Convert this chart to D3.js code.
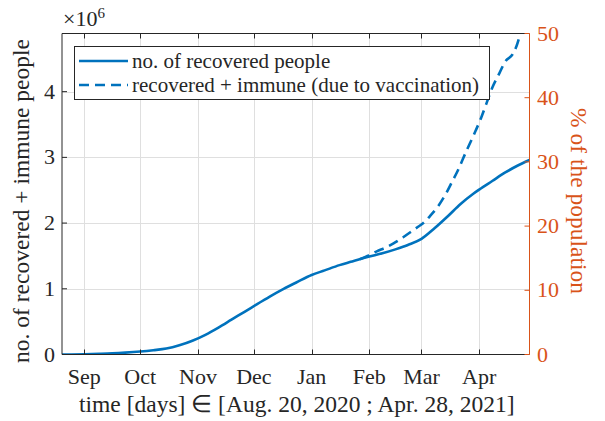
<!DOCTYPE html>
<html>
<head>
<meta charset="utf-8">
<script src="https://cdn.jsdelivr.net/npm/d3@7"></script>
</head>
<body style="margin:0">
<svg id="s" width="605" height="421"></svg>
<script>
// Recovered people (millions) over time
const recoveredDates = [
  "2020-08-20","2020-08-25","2020-09-01","2020-09-09","2020-09-16","2020-09-23",
  "2020-10-01","2020-10-08","2020-10-15","2020-10-22","2020-10-29","2020-11-05",
  "2020-11-12","2020-11-19","2020-11-26","2020-12-03","2020-12-10","2020-12-17",
  "2020-12-24","2021-01-01","2021-01-08","2021-01-16","2021-01-22","2021-01-28",
  "2021-02-01","2021-02-08","2021-02-15","2021-02-22","2021-03-01","2021-03-08",
  "2021-03-15","2021-03-22","2021-03-29","2021-04-01","2021-04-08","2021-04-15",
  "2021-04-22","2021-04-28"
];
const recoveredValues = [
  0.000, 0.001, 0.004, 0.010, 0.017, 0.028,
  0.045, 0.065, 0.090, 0.140, 0.210, 0.300,
  0.410, 0.530, 0.650, 0.770, 0.890, 1.000,
  1.100, 1.210, 1.280, 1.360, 1.410, 1.460,
  1.490, 1.540, 1.600, 1.670, 1.760, 1.920,
  2.100, 2.290, 2.450, 2.510, 2.640, 2.770,
  2.880, 2.960
];

// Recovered + immune through vaccination (millions)
const immuneDates = [
  "2021-01-27","2021-01-31","2021-02-05","2021-02-10","2021-02-14","2021-02-19",
  "2021-02-23","2021-02-27","2021-03-02","2021-03-06","2021-03-10","2021-03-14",
  "2021-03-18","2021-03-20","2021-03-25","2021-03-30","2021-04-02","2021-04-05",
  "2021-04-08","2021-04-12","2021-04-15","2021-04-19","2021-04-21","2021-04-23",
  "2021-04-28"
];
const immuneValues = [
  1.450, 1.500, 1.570, 1.630, 1.690, 1.780,
  1.860, 1.940, 2.000, 2.120, 2.260, 2.440,
  2.660, 2.770, 3.090, 3.400, 3.600, 3.830,
  4.060, 4.290, 4.460, 4.570, 4.690, 4.870,
  5.250
];

const leftTicks = [0, 1, 2, 3, 4];
const rightTicks = [0, 10, 20, 30, 40, 50];
const legendLabels = ["no. of recovered people", "recovered + immune (due to vaccination)"];
const population = 9.77; // millions; right axis = share of population

const parse = d3.timeParse("%Y-%m-%d");
const recovered = recoveredDates.map((d, i) => ({ date: parse(d), v: recoveredValues[i] }));
const immune = immuneDates.map((d, i) => ({ date: parse(d), v: immuneValues[i] }));

const FONT = "Liberation Serif";
const BLUE = "#0072BD", ORANGE = "#D95319", AX = "#262626", GRID = "#dfdfdf";
const L = 62, R = 529.5, T = 33.5, B = 354.5;

const svg = d3.select("#s");

const x = d3.scaleTime()
  .domain([parse("2020-08-20"), parse("2021-04-28")])
  .range([L, R]);
const yL = d3.scaleLinear().domain([0, population / 2]).range([B, T]);
const yR = d3.scaleLinear().domain([0, 50]).range([B, T]);

const months = x.ticks(d3.timeMonth.every(1)).filter(d => d > x.domain()[0]);

// serif face for every text node
function face(sel, size) {
  sel.attr("font-family", FONT).attr("font-size", size)
    .style("font-family", "'" + FONT + "', serif", "important");
}

// grid
const grid = svg.append("g");
grid.selectAll("line.v").data(months).join("line")
  .attr("x1", d => Math.round(x(d)) + 0.5).attr("x2", d => Math.round(x(d)) + 0.5)
  .attr("y1", T).attr("y2", B)
  .attr("stroke", GRID).attr("stroke-width", 1);
grid.selectAll("line.h").data(leftTicks.slice(1)).join("line")
  .attr("y1", d => Math.round(yL(d)) + 0.5).attr("y2", d => Math.round(yL(d)) + 0.5)
  .attr("x1", L).attr("x2", R)
  .attr("stroke", GRID).attr("stroke-width", 1);

// series
svg.append("clipPath").attr("id", "plotclip")
  .append("rect").attr("x", L).attr("y", T).attr("width", R - L).attr("height", B - T);

const line = d3.line()
  .x(d => x(d.date)).y(d => yL(d.v))
  .curve(d3.curveMonotoneX);

const series = svg.append("g").attr("clip-path", "url(#plotclip)");
series.append("path").datum(immune)
  .attr("d", line).attr("fill", "none")
  .attr("stroke", BLUE).attr("stroke-width", 2.6)
  .attr("stroke-dasharray", "10,6");
series.append("path").datum(recovered)
  .attr("d", line).attr("fill", "none")
  .attr("stroke", BLUE).attr("stroke-width", 2.6);

// axes
const tickFont = 22;
const axes = svg.append("g");

// box lines
axes.append("line").attr("x1", L).attr("x2", R).attr("y1", T).attr("y2", T)
  .attr("stroke", AX).attr("stroke-width", 1);
axes.append("line").attr("x1", L).attr("x2", R).attr("y1", B).attr("y2", B)
  .attr("stroke", AX).attr("stroke-width", 1);
axes.append("line").attr("x1", L).attr("x2", L).attr("y1", T).attr("y2", B)
  .attr("stroke", AX).attr("stroke-width", 1);
axes.append("line").attr("x1", R).attr("x2", R).attr("y1", T).attr("y2", B)
  .attr("stroke", ORANGE).attr("stroke-width", 1);

// x ticks (bottom and top, inward)
axes.selectAll("line.xb").data(months).join("line")
  .attr("x1", d => Math.round(x(d)) + 0.5).attr("x2", d => Math.round(x(d)) + 0.5)
  .attr("y1", B).attr("y2", B - 5).attr("stroke", AX);
axes.selectAll("line.xt").data(months).join("line")
  .attr("x1", d => Math.round(x(d)) + 0.5).attr("x2", d => Math.round(x(d)) + 0.5)
  .attr("y1", T).attr("y2", T + 5).attr("stroke", AX);
axes.selectAll("text.xl").data(months).join("text")
  .attr("x", d => x(d)).attr("y", 384)
  .attr("text-anchor", "middle").attr("fill", AX)
  .call(face, tickFont)
  .text(d3.timeFormat("%b"));

// left ticks
axes.selectAll("line.yl").data(leftTicks).join("line")
  .attr("x1", L).attr("x2", L + 5)
  .attr("y1", d => yL(d)).attr("y2", d => yL(d)).attr("stroke", AX);
axes.selectAll("text.yl").data(leftTicks).join("text")
  .attr("x", 55).attr("y", d => yL(d) + 7)
  .attr("text-anchor", "end").attr("fill", AX)
  .call(face, tickFont)
  .text(d => d);

// right ticks
axes.selectAll("line.yr").data(rightTicks).join("line")
  .attr("x1", R).attr("x2", R - 5)
  .attr("y1", d => yR(d)).attr("y2", d => yR(d)).attr("stroke", ORANGE);
axes.selectAll("text.yr").data(rightTicks).join("text")
  .attr("x", 537).attr("y", d => yR(d) + 7)
  .attr("text-anchor", "start").attr("fill", ORANGE)
  .call(face, tickFont)
  .text(d => d);

// exponent
const ex = svg.append("text").attr("x", 63).attr("y", 26)
  .attr("fill", AX).call(face, tickFont);
ex.append("tspan").text("×10");
ex.append("tspan").attr("dy", -8).attr("font-size", 15).text("6");

// axis labels
const labelFont = 23.5;
svg.append("text")
  .attr("transform", "translate(29,201) rotate(-90)")
  .attr("text-anchor", "middle").attr("fill", AX)
  .call(face, labelFont)
  .text("no. of recovered + immune people");
svg.append("text")
  .attr("transform", "translate(571,201) rotate(90)")
  .attr("text-anchor", "middle").attr("fill", ORANGE)
  .call(face, labelFont)
  .text("% of the population");
svg.append("text")
  .attr("x", (L + R) / 2 + 1).attr("y", 412)
  .attr("text-anchor", "middle").attr("fill", AX)
  .call(face, labelFont)
  .text("time [days] ∈ [Aug. 20, 2020 ; Apr. 28, 2021]");

// legend
const lg = svg.append("g");
lg.append("rect").attr("x", 74.5).attr("y", 46.5).attr("width", 415).attr("height", 53)
  .attr("fill", "#fff").attr("stroke", AX).attr("stroke-width", 1);
const rows = [{ dash: null, y: 61 }, { dash: "10,6", y: 85 }];
rows.forEach((r, i) => {
  lg.append("line").attr("x1", 79).attr("x2", 128).attr("y1", r.y).attr("y2", r.y)
    .attr("stroke", BLUE).attr("stroke-width", 2.6)
    .attr("stroke-dasharray", r.dash);
  lg.append("text").attr("x", 132).attr("y", r.y + 7)
    .attr("fill", AX).call(face, 21)
    .text(legendLabels[i]);
});
</script>
</body>
</html>
